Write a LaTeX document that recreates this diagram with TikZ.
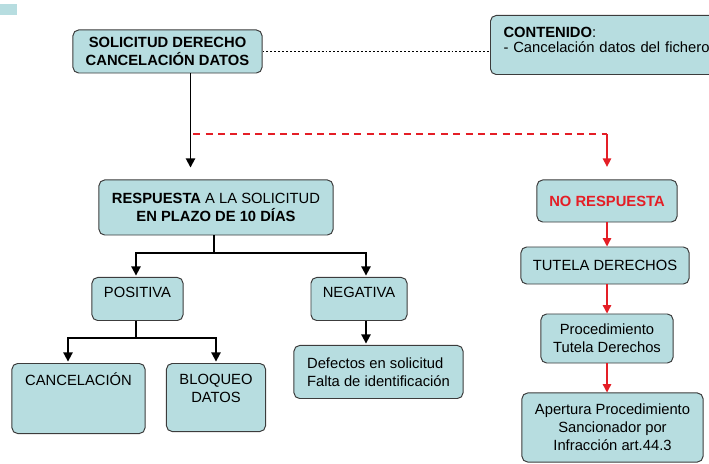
\documentclass[tikz,border=0pt]{standalone}
\usepackage{fontspec}
\setmainfont{Liberation Sans}
\usetikzlibrary{arrows.meta}
\definecolor{celeste}{HTML}{B7DDE0}
\definecolor{borde}{HTML}{3C3C3C}
\definecolor{rojo}{HTML}{E41E26}
\newcommand{\relleno}[1]{\rule[-#1]{0pt}{#1}}

\begin{document}
\begin{tikzpicture}
[x=0.025cm,y=-0.025cm,%
  every node/.style={shape=rectangle,rounded corners=4pt,draw=borde,fill=celeste,line width=0.7pt,align=center,inner sep=2pt,font=\fontsize{10.5}{12.7}\selectfont},%
  titulo/.style={font=\fontsize{10.5}{12.7}\selectfont\bfseries},%
  flecha/.style={line width=1.3pt,-{Triangle[length=6.5pt,width=6.5pt]}},%
  flecharoja/.style={rojo,line width=1pt,-{Triangle[length=6pt,width=6pt]}}]
\useasboundingbox (0,0) rectangle (709,464);
\fill[celeste] (0,4) rectangle (17,15);

% izquierda
\node[titulo,minimum width=4.725cm,minimum height=1.075cm] (solicitud) at (167.5,51.5)
  {SOLICITUD DERECHO\\CANCELACIÓN DATOS};
\node[anchor=north west,minimum height=1.475cm,text width=6cm,inner xsep=0.325cm,align=left] (contenido) at (490,15)
  {\textbf{CONTENIDO}:\\[-2pt]- Cancelación datos del fichero\relleno{7pt}};
\node[minimum width=5.85cm,minimum height=1.375cm] (respuesta) at (216,207.5)
  {\textbf{RESPUESTA} A LA SOLICITUD\\\textbf{EN PLAZO DE 10 DÍAS}};
\node[anchor=north,minimum width=2.275cm,minimum height=1.075cm] (positiva) at (137.5,277)
  {POSITIVA\relleno{9pt}};
\node[anchor=north,minimum width=2.4cm,minimum height=1.075cm] (negativa) at (359,277)
  {NEGATIVA\relleno{9pt}};
\node[anchor=north,minimum width=4.225cm,minimum height=1.325cm,align=left] (defectos) at (378.5,345)
  {Defectos en solicitud\\Falta de identificación};
\node[anchor=north,minimum width=3.325cm,minimum height=1.75cm] (cancelacion) at (78.5,363)
  {CANCELACIÓN\relleno{28pt}};
\node[anchor=north,minimum width=2.475cm,minimum height=1.7cm] (bloqueo) at (216,363)
  {BLOQUEO\\DATOS\relleno{12.5pt}};

% derecha
\node[titulo,text=rojo,minimum width=3.5cm,minimum height=1.05cm] (norespuesta) at (607,201)
  {NO RESPUESTA};
\node[minimum width=4.2cm,minimum height=0.925cm] (tutela) at (605,265.5)
  {TUTELA DERECHOS};
\node[minimum width=3.3cm,minimum height=1.225cm] (procedimiento) at (607,338.5)
  {Procedimiento\\Tutela Derechos};
\node[minimum width=4.525cm,minimum height=1.725cm] (apertura) at (612.5,427.5)
  {Apertura Procedimiento\\Sancionador por\\Infracción art.44.3};

\coordinate (ejeA) at (190.5,0);
\coordinate (bifurca) at (190.5,134);
\coordinate (esquina) at (607,134);
\coordinate (rama1) at (214,253);
\coordinate (ejeN) at (366,0);
\coordinate (rama2) at (136,338);
\coordinate (ejeC) at (68,0);

\draw[line width=1pt,dash pattern=on 1.4pt off 1.4pt] (solicitud.east) -- (contenido.west |- solicitud.east);
\draw[flecha,shorten >=8.5pt] (solicitud.south -| ejeA) -- (respuesta.north -| ejeA);
\draw[rojo,line width=1.1pt,dash pattern=on 5pt off 3.8pt] ([xshift=2pt]bifurca) -- (esquina);
\draw[flecharoja,shorten >=9pt] (esquina) -- (norespuesta.north);
\draw[flecharoja] (norespuesta) -- (tutela.north -| norespuesta);
\draw[flecharoja] (tutela.south -| norespuesta) -- (procedimiento.north);
\draw[flecharoja] (procedimiento) -- (apertura.north -| procedimiento);

\draw[line width=1.3pt] (respuesta.south -| rama1) -- (rama1);
\draw[flecha,shorten >=1pt] (rama1) -| (positiva.north -| rama2);
\draw[flecha,shorten >=1pt] (rama1) -| (negativa.north -| ejeN);
\draw[flecha,shorten >=1pt] (negativa.south -| ejeN) -- (defectos.north -| ejeN);
\draw[line width=1.3pt] (positiva.south -| rama2) -- (rama2);
\draw[flecha,shorten >=1pt] (rama2) -| (cancelacion.north -| ejeC);
\draw[flecha,shorten >=1pt] (rama2) -| (bloqueo.north);
\end{tikzpicture}
\end{document}
